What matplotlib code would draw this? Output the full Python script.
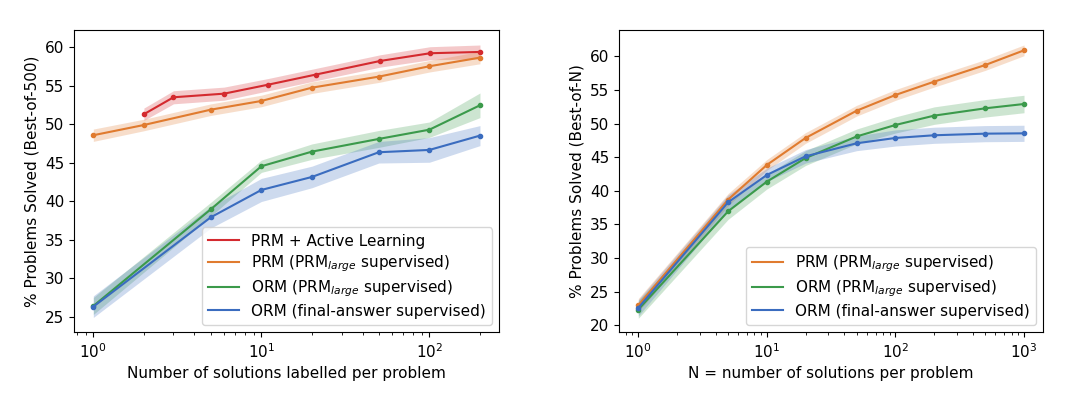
import numpy as np
import matplotlib
matplotlib.use("Agg")
import matplotlib.pyplot as plt
from matplotlib.lines import Line2D

# ---- Left panel data (Best-of-500 vs number of labelled solutions) ----
x_al = [2, 3, 6, 11, 21, 51, 101, 200]
prm_al = [51.3, 53.5, 53.97, 55.14, 56.44, 58.22, 59.22, 59.39]
prm_al_err = [0.8, 0.85, 0.85, 0.8, 0.8, 0.8, 0.85, 0.9]

x_lab = [1, 2, 5, 10, 20, 50, 100, 200]
prm_lab = [48.57, 49.9, 51.89, 53.02, 54.75, 56.18, 57.53, 58.65]
prm_lab_err = [0.8, 0.75, 0.75, 0.75, 0.75, 0.75, 0.75, 0.8]

x_orm = [1, 5, 10, 20, 50, 100, 200]
orm_prm_lab = [26.39, 38.95, 44.54, 46.44, 48.09, 49.29, 52.46]
orm_prm_lab_err = [1.1, 0.9, 0.8, 1.0, 1.1, 1.0, 1.6]
orm_fa_lab = [26.3, 37.91, 41.46, 43.15, 46.36, 46.66, 48.52]
orm_fa_lab_err = [1.4, 1.4, 1.5, 1.4, 1.4, 1.6, 1.3]

# ---- Right panel data (Best-of-N) ----
n_vals = [1, 5, 10, 20, 50, 100, 200, 500, 1000]
prm_n = [22.98, 38.7, 43.85, 47.86, 51.92, 54.25, 56.23, 58.71, 60.89]
prm_n_err = [1.0, 0.9, 0.8, 0.8, 0.8, 0.8, 0.8, 0.8, 0.8]
orm_prm_n = [22.34, 36.96, 41.37, 44.87, 48.09, 49.79, 51.18, 52.27, 52.91]
orm_prm_n_err = [1.3, 1.2, 1.1, 1.1, 1.1, 1.2, 1.3, 1.3, 1.3]
orm_fa_n = [22.59, 38.3, 42.36, 45.13, 47.07, 47.86, 48.26, 48.5, 48.55]
orm_fa_n_err = [1.2, 1.1, 1.0, 1.0, 1.1, 1.2, 1.2, 1.2, 1.2]

labels_left = ["PRM + Active Learning",
               r"PRM (PRM$_{large}$ supervised)",
               r"ORM (PRM$_{large}$ supervised)",
               "ORM (final-answer supervised)"]
labels_right = labels_left[1:]

C_RED = '#d42a2f'
C_ORANGE = '#e07b2f'
C_GREEN = '#3b9a4b'
C_BLUE = '#3a6cbf'

plt.rcParams['font.size'] = 11
plt.rcParams['mathtext.default'] = 'it'

fig = plt.figure(figsize=(10.82, 3.93), dpi=100)
ax1 = fig.add_axes([0.06839, 0.15445, 0.39307, 0.76845])
ax2 = fig.add_axes([0.57209, 0.15445, 0.39214, 0.76845])


def plot_series(ax, x, y, err, color):
    x = np.asarray(x, float)
    y = np.asarray(y, float)
    e = np.asarray(err, float)
    ax.plot(x, y, color=color, marker='.', markersize=6, linewidth=1.5)
    ax.fill_between(x, y - e, y + e, color=color, alpha=0.25, linewidth=0)


plot_series(ax1, x_al, prm_al, prm_al_err, C_RED)
plot_series(ax1, x_lab, prm_lab, prm_lab_err, C_ORANGE)
plot_series(ax1, x_orm, orm_prm_lab, orm_prm_lab_err, C_GREEN)
plot_series(ax1, x_orm, orm_fa_lab, orm_fa_lab_err, C_BLUE)
ax1.set_xscale('log')
ax1.set_ylim(22.97, 62.2)
ax1.set_xlabel("Number of solutions labelled per problem")
ax1.set_ylabel("% Problems Solved (Best-of-500)")
h1 = [Line2D([], [], color=c, linewidth=1.5) for c in (C_RED, C_ORANGE, C_GREEN, C_BLUE)]
ax1.legend(h1, labels_left, loc='lower right', fontsize=11, labelspacing=0.3)

plot_series(ax2, n_vals, prm_n, prm_n_err, C_ORANGE)
plot_series(ax2, n_vals, orm_prm_n, orm_prm_n_err, C_GREEN)
plot_series(ax2, n_vals, orm_fa_n, orm_fa_n_err, C_BLUE)
ax2.set_xscale('log')
ax2.set_ylim(18.96, 63.87)
ax2.set_xlabel("N = number of solutions per problem")
ax2.set_ylabel("% Problems Solved (Best-of-N)")
h2 = [Line2D([], [], color=c, linewidth=1.5) for c in (C_ORANGE, C_GREEN, C_BLUE)]
ax2.legend(h2, labels_right, loc='lower right', fontsize=11, labelspacing=0.3)

fig.savefig("out.png", dpi=100)
